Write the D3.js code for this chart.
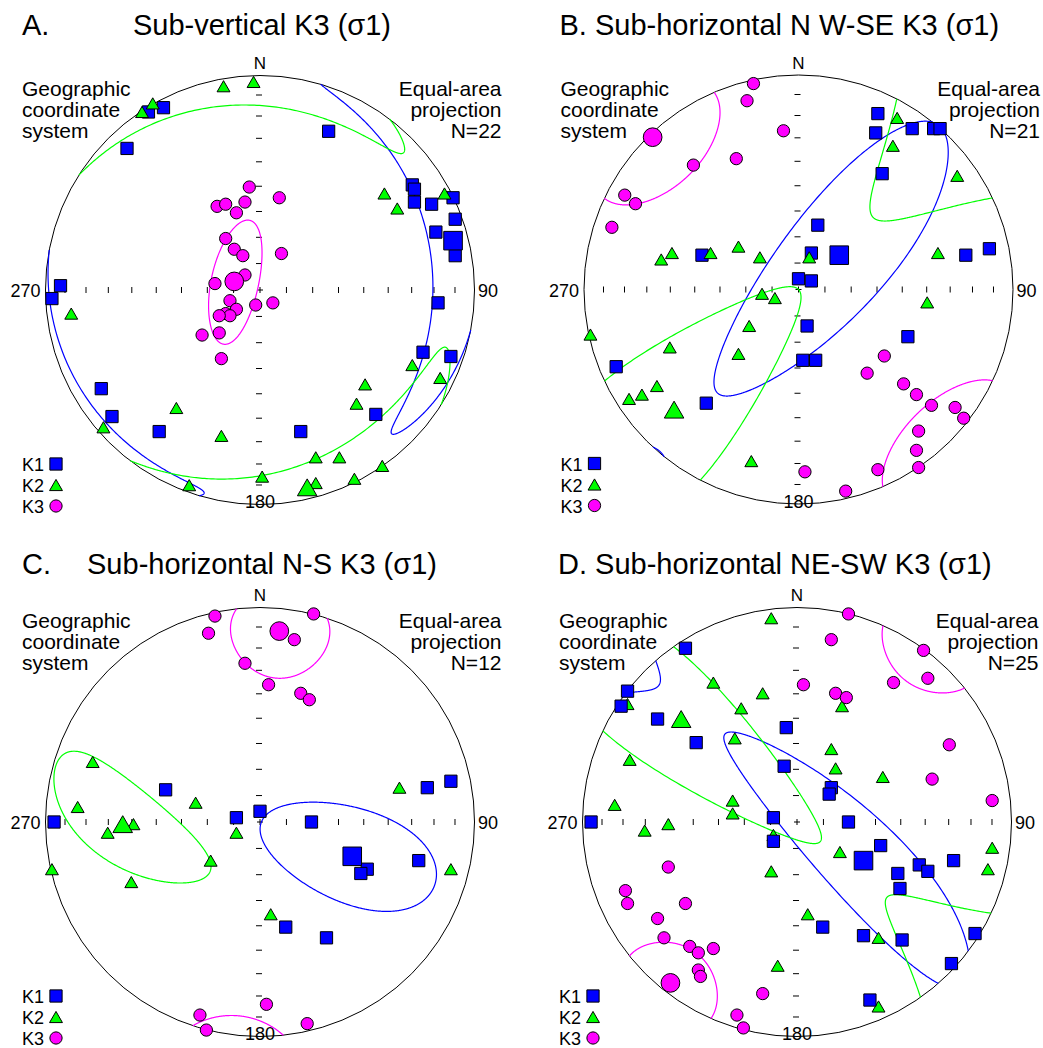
<!DOCTYPE html>
<html lang="en">
<head>
<meta charset="UTF-8">
<title>AMS stereonets</title>
<style>
  body { margin: 0; background: #fff; }
  svg { display: block; font-family: 'Liberation Sans', Arial, sans-serif; }
</style>
</head>
<body>
<svg width="1043" height="1048"></svg>
<script src="https://cdn.jsdelivr.net/npm/d3@7.8.5/dist/d3.min.js"></script>
<script>
// positions are equal-area projected coordinates, % of the net radius (east, north)
const aK1 = [[-45,85],[-52,83],[-62,66],[32,74],[71,49],[72,47],[72,41],[80,40],[90,43],[91,33],[82,27],[91,16],[-93,2],[-97,-4],[83,-6],[76,-29],[89,-31],[-74,-46],[-69,-59],[-47,-66],[19,-66],[54,-58]]
const aK2 = [[-17,95],[-3,97],[-50,87],[-55,83],[58,45],[64,38],[86,45],[-88,-11],[71,-35],[84,-41],[49,-44],[45,-53],[-39,-55],[-73,-64],[-18,-68],[26,-78],[37,-78],[57,-82],[1,-87],[26,-90],[44,-88],[-33,-91]]
const aK3 = [[-5,48],[9,43],[-20,39],[-16,40],[-7,41],[-11,36],[-16,24],[-12,19],[-8,16],[10,17],[-7,7],[-21,3],[-14,-5],[6,-6],[-2,-7],[-11,-9],[-16,-11],[-14,-12],[-19,-12],[-27,-21],[-19,-20],[-18,-32]]
const aMeans = { K1: [90,23], K2: [22,-92], K3: [-12,4] }

const bK1 = [[37,82],[36,73],[53,75],[63,75],[66,75],[39,54],[9,30],[-45,16],[6,17],[78,16],[89,19],[0,5],[6,4],[4,-17],[51,-22],[2,-33],[8,-33],[-85,-36],[-43,-53]]
const bK2 = [[46,80],[44,67],[74,53],[-64,14],[-59,17],[-41,17],[-28,20],[-18,15],[5,15],[65,17],[-17,-2],[-11,-4],[60,-6],[-23,-17],[-97,-21],[-28,-30],[-60,-27],[-66,-45],[-73,-49],[-79,-51],[-22,-80]]
const bK3 = [[-21,96],[-24,88],[-7,74],[-29,61],[-49,58],[-81,44],[-76,40],[-87,29],[40,-31],[32,-39],[49,-44],[55,-49],[62,-54],[73,-55],[77,-60],[56,-66],[55,-75],[56,-83],[37,-84],[3,-85],[22,-94]]
const bMeans = { K1: [19,16], K2: [-58,-56], K3: [-68,71] }

const cK1 = [[-44,15],[78,16],[89,19],[0,5],[-11,2],[-96,0],[24,0],[50,-22],[47,-24],[74,-18],[12,-49],[31,-54]]
const cK2 = [[-78,28],[-85,7],[-30,9],[65,16],[-71,-5],[-59,-1],[-11,-5],[-23,-18],[-97,-22],[-60,-28],[89,-22],[5,-43]]
const cK3 = [[-21,96],[-24,88],[25,97],[16,85],[-7,74],[4,64],[19,60],[23,57],[3,-85],[-28,-90],[-25,-97],[22,-94]]
const cMeans = { K1: [43,-16], K2: [-64,-1], K3: [9,89] }

const dK1 = [[-52,81],[-79,61],[-82,54],[-65,48],[-47,37],[-5,44],[-6,26],[16,16],[15,13],[-11,2],[-96,0],[24,0],[-11,-9],[39,-11],[57,-20],[61,-23],[73,-18],[47,-24],[48,-31],[12,-49],[31,-53],[49,-55],[83,-52],[72,-66],[34,-83]]
const dK2 = [[-12,95],[-39,65],[-16,60],[21,54],[-79,55],[-26,53],[-29,39],[16,34],[18,25],[40,21],[-78,29],[-85,8],[-30,10],[-30,4],[-71,-4],[-60,-1],[-11,-6],[20,-14],[-12,-23],[91,-12],[89,-22],[5,-43],[38,-54],[-9,-67],[38,-86]]
const dK3 = [[24,97],[16,85],[59,80],[61,67],[45,65],[3,64],[18,60],[23,58],[71,36],[63,20],[91,10],[-60,-21],[-80,-32],[-79,-38],[-52,-38],[-65,-45],[-62,-54],[-50,-58],[-46,-61],[-39,-59],[-46,-69],[-45,-72],[-16,-80],[-28,-90],[-25,-96]]
const dMeans = { K1: [31,-18], K2: [-54,48], K3: [-59,-75] }

// confidence cones: axis, mean trend, mean plunge, semi-axes a / b (deg), rotation of a (deg)
const aCones = [['K1', 75.7, 8, 61, 11.5, 7], ['K2', 167, 2, 60, 15, -11], ['K3', 288, 80, 24, 9, -6]]
const bCones = [['K1', 50, 70, 71, 20, 80], ['K2', 226, 20, 70, 20, 90], ['K3', 316, 3, 24, 21, 90]]
const cCones = [['K1', 110, 52, 37.5, 17, 90], ['K2', 269, 36, 38, 14, 120], ['K3', 6, 11.5, 21.5, 14.5, 90]]
const dCones = [['K1', 120, 60.7, 72, 15, 105], ['K2', 310, 28.5, 73, 17, 90], ['K3', 217.5, 3, 21, 14, 90]]

const titles = ['Sub-vertical K3 (σ1)', 'Sub-horizontal N W-SE K3 (σ1)', 'Sub-horizontal N-S K3 (σ1)', 'Sub-horizontal NE-SW K3 (σ1)']
const letters = ['A.', 'B.', 'C.', 'D.']
const sampleCounts = [22, 21, 12, 25]
const axes = ['K1', 'K2', 'K3']
const plungeTicks = d3.range(10, 90, 10)

const colors = { K1: '#0000ff', K2: '#00ff00', K3: '#ff00ff' }
const shapes = { K1: d3.symbolSquare, K2: d3.symbolTriangle, K3: d3.symbolCircle }
const sizes = { K1: [150, 345], K2: [72, 165], K3: [118, 275] }

const R = 214.5
const panels = [
    { cx: 260, cy: 290, pts: { K1: aK1, K2: aK2, K3: aK3 }, means: aMeans, cones: aCones, ty: 35, order: ['K1', 'K2', 'K3'] },
    { cx: 798.5, cy: 289.5, pts: { K1: bK1, K2: bK2, K3: bK3 }, means: bMeans, cones: bCones, ty: 34.5, order: ['K1', 'K2', 'K3'] },
    { cx: 260, cy: 822, pts: { K1: cK1, K2: cK2, K3: cK3 }, means: cMeans, cones: cCones, ty: 573.5, order: ['K1', 'K2', 'K3'] },
    { cx: 797, cy: 822, pts: { K1: dK1, K2: dK2, K3: dK3 }, means: dMeans, cones: dCones, ty: 573.5, order: ['K2', 'K1', 'K3'] }
]

const rad = Math.PI / 180

// lower-hemisphere equal-area projection of a unit vector (east, north, down)
function project([x, y, z]) {
    if (z < 0) { x = -x; y = -y; z = -z }
    const k = 100 / Math.sqrt(1 + z)
    return [x * k, y * k]
}

function coneSegments([, trend, plunge, a, b, psi]) {
    const tr = trend * rad, pl = plunge * rad, ps = psi * rad
    const m = [Math.cos(pl) * Math.sin(tr), Math.cos(pl) * Math.cos(tr), Math.sin(pl)]
    const h = [Math.cos(tr), -Math.sin(tr), 0]
    const w = [-Math.sin(pl) * Math.sin(tr), -Math.sin(pl) * Math.cos(tr), Math.cos(pl)]
    const u = h.map((v, i) => Math.cos(ps) * v + Math.sin(ps) * w[i])
    const v = h.map((q, i) => -Math.sin(ps) * q + Math.cos(ps) * w[i])
    const ta = Math.tan(a * rad), tb = Math.tan(b * rad)
    const dirs = d3.range(0, 721).map(k => {
        const t = k * 0.5 * rad
        const d = m.map((mi, i) => mi + ta * Math.cos(t) * u[i] + tb * Math.sin(t) * v[i])
        const n = Math.hypot(...d)
        return d.map(c => c / n)
    })
    const segs = []
    let cur = []
    dirs.forEach((d, i) => {
        if (i > 0) {
            const p = dirs[i - 1]
            if ((p[2] >= 0) !== (d[2] >= 0)) {
                const s = p[2] / (p[2] - d[2])
                const cx = p[0] + s * (d[0] - p[0]), cy = p[1] + s * (d[1] - p[1])
                const n = Math.hypot(cx, cy)
                const end = p[2] >= 0 ? [cx / n, cy / n, 0] : [-cx / n, -cy / n, 0]
                cur.push(project(end))
                segs.push(cur)
                cur = [project(end.map(c => -c))]
            }
        }
        cur.push(project(d))
    })
    segs.push(cur)
    return segs
}

const svg = d3.select('svg')

panels.forEach((p, pi) => {
    const g = svg.append('g')
    const x = d3.scaleLinear().domain([-100, 100]).range([p.cx - R, p.cx + R])
    const y = d3.scaleLinear().domain([-100, 100]).range([p.cy + R, p.cy - R])

    // title
    if (pi % 2 === 0) {
        g.append('text').attr('x', 22).attr('y', p.ty).attr('font-size', 29).text(letters[pi])
        g.append('text').attr('x', p.cx + 2).attr('y', p.ty).attr('font-size', 29)
            .attr('text-anchor', 'middle').text(titles[pi])
    } else {
        g.append('text').attr('x', p.cx - 239).attr('y', p.ty).attr('font-size', 29)
            .text(letters[pi] + ' ' + titles[pi])
    }

    // primitive circle
    g.append('circle').attr('cx', p.cx).attr('cy', p.cy).attr('r', R)
        .attr('fill', 'none').attr('stroke', '#000').attr('stroke-width', 1)

    // plunge ticks along the axes
    const tickR = plungeTicks.map(pl => project([Math.cos(pl * rad), 0, Math.sin(pl * rad)])[0])
    const ticks = g.append('g').attr('stroke', '#000').attr('stroke-width', 1)
    tickR.forEach(r => {
        ;[-r, r].forEach(e => {
            ticks.append('line').attr('x1', x(e)).attr('x2', x(e)).attr('y1', p.cy - 3).attr('y2', p.cy + 3)
            ticks.append('line').attr('x1', p.cx - 4).attr('x2', p.cx + 2).attr('y1', y(e)).attr('y2', y(e))
        })
    })
    ticks.append('line').attr('x1', p.cx - 3).attr('x2', p.cx + 3).attr('y1', p.cy).attr('y2', p.cy)
    ticks.append('line').attr('x1', p.cx).attr('x2', p.cx).attr('y1', p.cy - 3).attr('y2', p.cy + 3)

    // direction labels
    const lab = g.append('g').attr('font-size', 18)
    lab.append('text').attr('x', p.cx).attr('y', p.cy - 221).attr('text-anchor', 'middle').attr('font-size', 17).text('N')
    lab.append('text').attr('x', p.cx - 219.5).attr('y', p.cy + 7).attr('text-anchor', 'end').text('270')
    lab.append('text').attr('x', p.cx + 218).attr('y', p.cy + 7).text('90')
    lab.append('text').attr('x', p.cx).attr('y', p.cy + 218).attr('text-anchor', 'middle').text('180')

    // corner notes
    const note = g.append('g').attr('font-size', 21)
    ;['Geographic', 'coordinate', 'system'].forEach((t, i) =>
        note.append('text').attr('x', p.cx - 238).attr('y', p.cy - 194 + i * 21).text(t))
    ;['Equal-area', 'projection', 'N=' + sampleCounts[pi]].forEach((t, i) =>
        note.append('text').attr('x', p.cx + 241.5).attr('y', p.cy - 194 + i * 21).attr('text-anchor', 'end').text(t))

    // confidence cones
    const line = d3.line().x(d => x(d[0])).y(d => y(d[1]))
    p.cones.forEach(c => {
        g.append('path')
            .attr('d', coneSegments(c).map(s => line(s)).join(''))
            .attr('fill', 'none').attr('stroke', colors[c[0]]).attr('stroke-width', 1.2)
    })

    // data points, then means on top
    const marker = (key, big) => d3.symbol().type(shapes[key]).size(sizes[key][big ? 1 : 0])
    const shiftY = (key, big) => key === 'K2' ? Math.sqrt(sizes[key][big ? 1 : 0] / (3 * Math.sqrt(3))) / 2 : 0
    p.order.forEach(key => {
        g.append('g').selectAll('path').data(p.pts[key]).join('path')
            .attr('transform', d => `translate(${x(d[0])},${y(d[1]) + shiftY(key, false)})`)
            .attr('d', marker(key, false))
            .attr('fill', colors[key]).attr('stroke', '#000').attr('stroke-width', 1)
    })
    axes.forEach(key => {
        const d = p.means[key]
        g.append('path')
            .attr('transform', `translate(${x(d[0])},${y(d[1]) + shiftY(key, true)})`)
            .attr('d', marker(key, true))
            .attr('fill', colors[key]).attr('stroke', '#000').attr('stroke-width', 1)
    })

    // legend
    axes.forEach((key, i) => {
        const by = p.cy + 181 + i * 21
        g.append('text').attr('x', p.cx - 238).attr('y', by).attr('font-size', 18).text(key)
        g.append('path')
            .attr('transform', `translate(${p.cx - 204},${by - 7 + shiftY(key, false)})`)
            .attr('d', marker(key, false))
            .attr('fill', colors[key]).attr('stroke', '#000').attr('stroke-width', 1)
    })
})
</script>
</body>
</html>
